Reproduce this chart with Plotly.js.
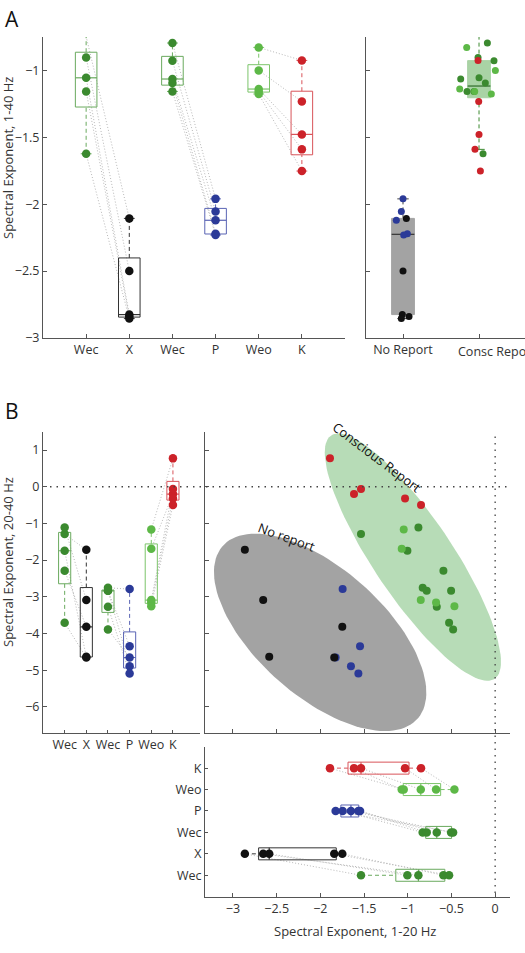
<!DOCTYPE html>
<html><head><meta charset="utf-8">
<script src="https://cdn.plot.ly/plotly-3.0.1.min.js"></script>
<style>html,body{margin:0;padding:0;background:#fff}#plot{width:525px;height:953px}</style>
</head><body><div id="plot"></div>
<script>
// ---------------- DATA ----------------
const catsA = ['Wec','X','Wec','P','Weo','K'];
const catsReport = ['No Report','Consc Report'];
const catsB = ['Wec','X','Wec','P','Weo','K'];

// Panel A: spectral exponent 1-40 Hz (subject order)
const A_Wec1 = [-0.746, -0.903, -1.055, -1.157, -1.623];
const A_X    = [-2.106, -2.50, -2.825, -2.84, -2.855];
const A_Wec3 = [-0.795, -0.928, -1.064, -1.094, -1.157];
const A_P    = [-1.96, -2.055, -2.12, -2.22, -2.23];
const A_Weo  = [-0.828, -1.0, -1.139, -1.157, -1.176];
const A_K    = [-0.925, -1.232, -1.478, -1.59, -1.752];

// horizontal jitter (category units) of the pooled points, panel A right
const jitX    = [0.044, 0, -0.009, 0.079, -0.022];
const jitP    = [0, -0.022, -0.088, 0.057, 0.009];
const jitWec1 = [0, -0.013, 0, -0.158, 0.053];
const jitWec3 = [0.11, 0.197, -0.241, 0.083, -0.066];
const jitWeo  = [-0.162, 0.215, -0.254, -0.057, 0.162];
const jitK    = [-0.013, -0.004, 0, -0.053, 0.018];

// Panel B: 1-20 Hz (x) and 20-40 Hz (y), same subject order
const B_x_Wec1 = [-1.535, -0.878, -1.004, -0.592, -0.527];
const B_y_Wec1 = [-1.29, -1.108, -1.745, -2.29, -3.71];
const B_x_X    = [-2.864, -2.654, -2.585, -1.749, -1.841];
const B_y_X    = [-1.72, -3.09, -4.636, -3.818, -4.654];
const B_x_Wec3 = [-0.829, -0.783, -0.504, -0.668, -0.481];
const B_y_Wec3 = [-2.754, -2.836, -2.836, -3.27, -3.89];
const B_x_P    = [-1.745, -1.546, -1.65, -1.565, -1.825];
const B_y_P    = [-2.79, -4.345, -4.89, -5.09, -4.654];
const B_x_Weo  = [-1.046, -1.069, -0.851, -0.676, -0.466];
const B_y_Weo  = [-1.163, -1.69, -3.09, -3.153, -3.254];
const B_x_K    = [-1.89, -1.615, -1.535, -1.031, -0.848];
const B_y_K    = [0.773, -0.2, -0.063, -0.318, -0.5];

// ---------------- STYLE ----------------
const C = {
  dg:'#3b8a2f', lg:'#5db847', red:'#cc2229', blue:'#2b3a98', blk:'#111111',
  dgBox:'#6aaa5e', lgBox:'#7cc46a', redBox:'#d9545a', blueBox:'#5a64b4', blkBox:'#333333',
  dotLine:'#b8b8b8'
};
const FONT = 'Open Sans, Noto Sans, sans-serif';

// ---------------- HELPERS ----------------
function prctile(vals, p){
  const s=[...vals].sort((a,b)=>a-b), n=s.length;
  const pos=p/100*n+0.5;
  if(pos<=1) return s[0];
  if(pos>=n) return s[n-1];
  const lo=Math.floor(pos), f=pos-lo;
  return s[lo-1]+f*(s[lo]-s[lo-1]);
}
function boxStats(vals){
  const q1=prctile(vals,25), med=prctile(vals,50), q3=prctile(vals,75), iqr=q3-q1;
  const inn=vals.filter(v=>v>=q1-1.5*iqr && v<=q3+1.5*iqr);
  return {q1,med,q3,lo:Math.min(...inn),hi:Math.max(...inn)};
}
const traces=[];
function addBox(o){
  const s=boxStats(o.vals), w=o.w, p=o.pos;
  const P=(a,v)=>o.horiz?[v,a]:[a,v];
  function line(pts, color, dash, width, fill){
    const t={type:'scatter',mode:'lines',x:pts.map(q=>q[0]),y:pts.map(q=>q[1]),
      xaxis:o.xa,yaxis:o.ya,hoverinfo:'skip',
      line:{color:color,width:width||1,dash:dash||'solid'}};
    if(fill){t.fill='toself';t.fillcolor=fill;}
    traces.push(t);
  }
  line([P(p,s.q3),P(p,s.hi)], o.whisk, '4px,3px', 1);
  line([P(p,s.lo),P(p,s.q1)], o.whisk, '4px,3px', 1);
  line([P(p-w*0.5,s.hi),P(p+w*0.5,s.hi)], o.whisk, 'solid', 1);
  line([P(p-w*0.5,s.lo),P(p+w*0.5,s.lo)], o.whisk, 'solid', 1);
  line([P(p-w,s.q1),P(p+w,s.q1),P(p+w,s.q3),P(p-w,s.q3),P(p-w,s.q1)], o.line, 'solid', 1, o.fill);
  line([P(p-w,s.med),P(p+w,s.med)], o.med, 'solid', 1.2);
}
function addPoints(xs, ys, color, xa, ya, size){
  traces.push({type:'scatter',mode:'markers',x:xs,y:ys,xaxis:xa,yaxis:ya,hoverinfo:'skip',
    cliponaxis:false, marker:{color:color,size:size||8,line:{width:0}}});
}
function addLinks(x1,y1,x2,y2,xa,ya){
  const X=[],Y=[];
  for(let i=0;i<x1.length;i++){X.push(x1[i],x2[i],null);Y.push(y1[i],y2[i],null);}
  traces.push({type:'scatter',mode:'lines',x:X,y:Y,xaxis:xa,yaxis:ya,hoverinfo:'skip',
    line:{color:C.dotLine,width:1,dash:'1px,2px'}});
}
const rep=(v,n)=>Array(n).fill(v);
function ellipse(xs, ys, k, fill, xa, ya){
  const n=xs.length, mx=xs.reduce((a,b)=>a+b)/n, my=ys.reduce((a,b)=>a+b)/n;
  let sxx=0,syy=0,sxy=0;
  for(let i=0;i<n;i++){sxx+=(xs[i]-mx)**2;syy+=(ys[i]-my)**2;sxy+=(xs[i]-mx)*(ys[i]-my);}
  sxx/=n-1;syy/=n-1;sxy/=n-1;
  const tr=sxx+syy, det=sxx*syy-sxy*sxy, d=Math.sqrt(tr*tr/4-det);
  const l1=tr/2+d, l2=tr/2-d, th=0.5*Math.atan2(2*sxy,sxx-syy);
  const X=[],Y=[];
  for(let i=0;i<=120;i++){
    const t=2*Math.PI*i/120, ex=k*Math.sqrt(l1)*Math.cos(t), ey=k*Math.sqrt(l2)*Math.sin(t);
    X.push(mx+ex*Math.cos(th)-ey*Math.sin(th)); Y.push(my+ex*Math.sin(th)+ey*Math.cos(th));
  }
  traces.push({type:'scatter',mode:'lines',x:X,y:Y,xaxis:xa,yaxis:ya,fill:'toself',fillcolor:fill,
    line:{width:0,color:fill},hoverinfo:'skip'});
}

// ---------------- PANEL A LEFT ----------------
addLinks(rep(1,5),A_Wec1,rep(2,5),A_X,'x','y');
addLinks(rep(3,5),A_Wec3,rep(4,5),A_P,'x','y');
addLinks(rep(5,5),A_Weo,rep(6,5),A_K,'x','y');
const groupsA=[[A_Wec1,C.dg,C.dgBox],[A_X,C.blk,C.blkBox],[A_Wec3,C.dg,C.dgBox],[A_P,C.blue,C.blueBox],[A_Weo,C.lg,C.lgBox],[A_K,C.red,C.redBox]];
groupsA.forEach((g,i)=>addBox({pos:i+1,vals:g[0],w:0.25,xa:'x',ya:'y',line:g[2],med:g[2],whisk:g[2]}));
groupsA.forEach((g,i)=>addPoints(rep(i+1,5),g[0],g[1],'x','y',8.5));

// ---------------- PANEL A RIGHT ----------------
const noRep=[...A_X,...A_P];
const consc=[...A_Wec1,...A_Wec3,...A_Weo,...A_K];
addBox({pos:1,vals:noRep,w:0.15,xa:'x2',ya:'y2',line:'#a3a3a3',fill:'#a3a3a3',med:'#333',whisk:'#444'});
addBox({pos:2,vals:consc,w:0.15,xa:'x2',ya:'y2',line:'#a9d3a5',fill:'#a9d3a5',med:'#2f6a2a',whisk:C.dg});
addPoints(jitX.map(j=>1+j),A_X,C.blk,'x2','y2',7);
addPoints(jitP.map(j=>1+j),A_P,C.blue,'x2','y2',7);
addPoints(jitWec1.map(j=>2+j),A_Wec1,C.dg,'x2','y2',7);
addPoints(jitWec3.map(j=>2+j),A_Wec3,C.dg,'x2','y2',7);
addPoints(jitWeo.map(j=>2+j),A_Weo,C.lg,'x2','y2',7);
addPoints(jitK.map(j=>2+j),A_K,C.red,'x2','y2',7);

// ---------------- PANEL B LEFT (20-40 Hz) ----------------
addLinks(rep(1,5),B_y_Wec1,rep(2,5),B_y_X,'x3','y3');
addLinks(rep(3,5),B_y_Wec3,rep(4,5),B_y_P,'x3','y3');
addLinks(rep(5,5),B_y_Weo,rep(6,5),B_y_K,'x3','y3');
const groupsBy=[[B_y_Wec1,C.dg,C.dgBox],[B_y_X,C.blk,C.blkBox],[B_y_Wec3,C.dg,C.dgBox],[B_y_P,C.blue,C.blueBox],[B_y_Weo,C.lg,C.lgBox],[B_y_K,C.red,C.redBox]];
groupsBy.forEach((g,i)=>addBox({pos:i+1,vals:g[0],w:0.28,xa:'x3',ya:'y3',line:g[2],med:g[2],whisk:g[2]}));
groupsBy.forEach((g,i)=>addPoints(rep(i+1,5),g[0],g[1],'x3','y3',8.5));

// ---------------- PANEL B SCATTER ----------------
const k95=Math.sqrt(5.991);
ellipse([...B_x_X,...B_x_P],[...B_y_X,...B_y_P],k95,'#a3a3a3','x4','y4');
ellipse([...B_x_Wec1,...B_x_Wec3,...B_x_Weo,...B_x_K],[...B_y_Wec1,...B_y_Wec3,...B_y_Weo,...B_y_K],k95,'#b7dcb7','x4','y4');
addPoints(B_x_Wec1,B_y_Wec1,C.dg,'x4','y4',8);
addPoints(B_x_Wec3,B_y_Wec3,C.dg,'x4','y4',8);
addPoints(B_x_Weo,B_y_Weo,C.lg,'x4','y4',8);
addPoints(B_x_K,B_y_K,C.red,'x4','y4',8);
addPoints(B_x_P,B_y_P,C.blue,'x4','y4',8);
addPoints(B_x_X,B_y_X,C.blk,'x4','y4',8);

// ---------------- PANEL B BOTTOM (1-20 Hz) ----------------
addLinks(B_x_Wec1,rep(1,5),B_x_X,rep(2,5),'x5','y5');
addLinks(B_x_Wec3,rep(3,5),B_x_P,rep(4,5),'x5','y5');
addLinks(B_x_Weo,rep(5,5),B_x_K,rep(6,5),'x5','y5');
const groupsBx=[[B_x_Wec1,C.dg,C.dgBox],[B_x_X,C.blk,C.blkBox],[B_x_Wec3,C.dg,C.dgBox],[B_x_P,C.blue,C.blueBox],[B_x_Weo,C.lg,C.lgBox],[B_x_K,C.red,C.redBox]];
groupsBx.forEach((g,i)=>addBox({pos:i+1,vals:g[0],w:0.28,horiz:true,xa:'x5',ya:'y5',line:g[2],med:g[2],whisk:g[2]}));
groupsBx.forEach((g,i)=>addPoints(g[0],rep(i+1,5),g[1],'x5','y5',8.5));

// ---------------- LAYOUT ----------------
const W=525,H=953;
const px=v=>v/W, py=v=>1-v/H;
const base={showgrid:false,zeroline:false,showline:true,linecolor:'#555',linewidth:1,
  ticks:'inside',ticklen:4,tickcolor:'#555',tickfont:{family:FONT,size:12.5,color:'#333'},fixedrange:true};
const titleFont={family:FONT,size:13,color:'#333'};
const layout={
  width:W,height:H,margin:{l:0,r:0,t:0,b:0},paper_bgcolor:'#fff',plot_bgcolor:'rgba(0,0,0,0)',
  showlegend:false,font:{family:FONT,size:12,color:'#333'},
  xaxis:{...base,domain:[px(43),px(345)],range:[0,7],tickvals:[1,2,3,4,5,6],ticktext:catsA,anchor:'y'},
  yaxis:{...base,domain:[py(338),py(37)],range:[-3,-0.75],dtick:0.5,tick0:-3,anchor:'x'},
  xaxis2:{...base,domain:[px(366),1],range:[0.513,2.605],tickvals:[1,2],ticktext:[catsReport[0],''],anchor:'y2'},
  yaxis2:{...base,domain:[py(338),py(37)],range:[-3,-0.75],dtick:0.5,tick0:-3,showticklabels:false,anchor:'x2'},
  xaxis3:{...base,domain:[px(43),px(200)],range:[0,7.25],tickvals:[1,2,3,4,5,6],ticktext:catsB,anchor:'y3',ticklen:3},
  yaxis3:{...base,domain:[py(733.3),py(431.7)],range:[-6.72,1.5],dtick:1,tick0:0,anchor:'x3'},
  xaxis4:{...base,domain:[px(205),px(510)],range:[-3.32,0.17],dtick:0.5,tick0:0,showticklabels:false,anchor:'y4'},
  yaxis4:{...base,domain:[py(733.3),py(431.7)],range:[-6.72,1.5],dtick:1,tick0:0,showticklabels:false,anchor:'x4'},
  xaxis5:{...base,domain:[px(205),px(510)],range:[-3.32,0.17],dtick:0.5,tick0:0,anchor:'y5'},
  yaxis5:{...base,domain:[py(896.7),py(746.7)],range:[0,7],tickvals:[1,2,3,4,5,6],ticktext:catsB,anchor:'x5',ticklen:3},
  shapes:[
    {type:'line',xref:'paper',x0:px(50),x1:px(510),yref:'y3',y0:0,y1:0,line:{color:'#444',width:1.3,dash:'1.5px,5px'}},
    {type:'line',xref:'x4',x0:0,x1:0,yref:'paper',y0:py(893),y1:py(433),line:{color:'#444',width:1.3,dash:'1.5px,5px'}}
  ],
  annotations:[
    {text:'A',xref:'paper',yref:'paper',x:px(3),y:py(3),xanchor:'left',yanchor:'top',showarrow:false,font:{family:FONT,size:21,color:'#111'}},
    {text:'B',xref:'paper',yref:'paper',x:px(3),y:py(395),xanchor:'left',yanchor:'top',showarrow:false,font:{family:FONT,size:21,color:'#111'}},
    {text:'Spectral Exponent, 1-40 Hz',xref:'paper',yref:'paper',x:px(8),y:py(158),xanchor:'center',yanchor:'middle',textangle:-90,showarrow:false,font:titleFont},
    {text:'Spectral Exponent, 20-40 Hz',xref:'paper',yref:'paper',x:px(8),y:py(562),xanchor:'center',yanchor:'middle',textangle:-90,showarrow:false,font:titleFont},
    {text:'Spectral Exponent, 1-20 Hz',xref:'paper',yref:'paper',x:px(355),y:py(931),xanchor:'center',yanchor:'middle',showarrow:false,font:titleFont},
    {text:catsReport[1],xref:'paper',yref:'paper',x:px(456),y:py(341),xanchor:'left',yanchor:'top',showarrow:false,font:{family:FONT,size:12.5,color:'#333'}},
    {text:'No report',xref:'x4',yref:'y4',x:-2.386,y:-1.36,xanchor:'center',yanchor:'middle',textangle:20,showarrow:false,font:{family:FONT,size:13,color:'#111'}},
    {text:'Conscious Report',xref:'x4',yref:'y4',x:-1.355,y:0.82,xanchor:'center',yanchor:'middle',textangle:37,showarrow:false,font:{family:FONT,size:13,color:'#111'}}
  ]
};
Plotly.newPlot('plot',traces,layout,{staticPlot:true,displayModeBar:false});
</script></body></html>
